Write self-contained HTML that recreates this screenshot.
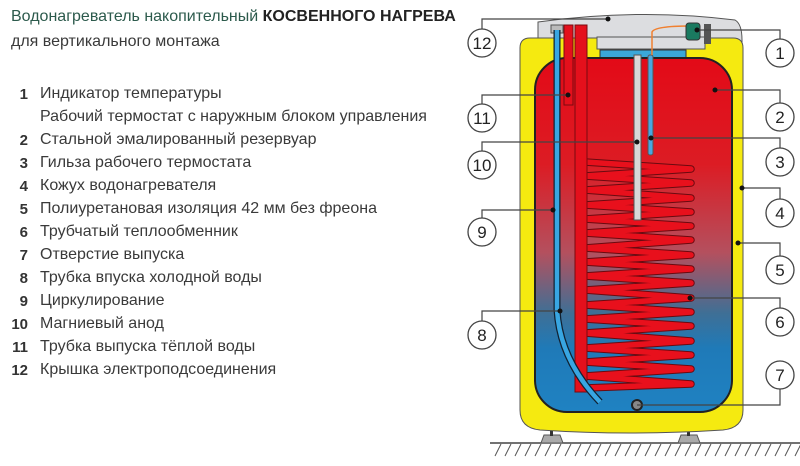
<!DOCTYPE html>
<html><head><meta charset="utf-8"><style>
body{margin:0;background:#fff;width:800px;height:466px;overflow:hidden;position:relative;font-family:"Liberation Sans",sans-serif;}
.t{position:absolute;font-size:16px;color:#3a3a3a;white-space:nowrap;}
.n{position:absolute;font-size:15px;font-weight:bold;color:#333;width:28px;text-align:right;}
</style></head><body>
<div class="t" style="left:11px;top:8px;color:#2c5a4c">Водонагреватель накопительный <b style="color:#222">КОСВЕННОГО НАГРЕВА</b></div>
<div class="t" style="left:11px;top:33px">для вертикального монтажа</div>
<div class="n" style="left:0;top:86px">1</div><div class="t" style="left:40px;top:85px">Индикатор температуры</div>
<div class="t" style="left:40px;top:108px">Рабочий термостат с наружным блоком управления</div>
<div class="n" style="left:0;top:132px">2</div><div class="t" style="left:40px;top:131px">Стальной эмалированный резервуар</div>
<div class="n" style="left:0;top:155px">3</div><div class="t" style="left:40px;top:154px">Гильза рабочего термостата</div>
<div class="n" style="left:0;top:178px">4</div><div class="t" style="left:40px;top:177px">Кожух водонагревателя</div>
<div class="n" style="left:0;top:201px">5</div><div class="t" style="left:40px;top:200px">Полиуретановая изоляция 42 мм без фреона</div>
<div class="n" style="left:0;top:224px">6</div><div class="t" style="left:40px;top:223px">Трубчатый теплообменник</div>
<div class="n" style="left:0;top:247px">7</div><div class="t" style="left:40px;top:246px">Отверстие выпуска</div>
<div class="n" style="left:0;top:270px">8</div><div class="t" style="left:40px;top:269px">Трубка впуска холодной воды</div>
<div class="n" style="left:0;top:293px">9</div><div class="t" style="left:40px;top:292px">Циркулирование</div>
<div class="n" style="left:0;top:316px">10</div><div class="t" style="left:40px;top:315px">Магниевый анод</div>
<div class="n" style="left:0;top:339px">11</div><div class="t" style="left:40px;top:338px">Трубка выпуска тёплой воды</div>
<div class="n" style="left:0;top:362px">12</div><div class="t" style="left:40px;top:361px">Крышка электроподсоединения</div>

<svg width="800" height="466" style="position:absolute;left:0;top:0">
<defs>
<linearGradient id="g" x1="0" y1="0" x2="0" y2="1">
<stop offset="0" stop-color="#e30a17"/><stop offset="0.3" stop-color="#dc1c24"/>
<stop offset="0.55" stop-color="#b4505e"/><stop offset="0.72" stop-color="#3f6f95"/>
<stop offset="0.82" stop-color="#1f7ab8"/><stop offset="1" stop-color="#1f82c2"/>
</linearGradient>
</defs>
<line x1="490" y1="443" x2="800" y2="443" stroke="#444" stroke-width="1.5"/>
<g stroke="#555" stroke-width="1">
<path d="M495 456l6-12M505 456l6-12M515 456l6-12M525 456l6-12M535 456l6-12M545 456l6-12M555 456l6-12M565 456l6-12M575 456l6-12M585 456l6-12M595 456l6-12M605 456l6-12M615 456l6-12M625 456l6-12M635 456l6-12M645 456l6-12M655 456l6-12M665 456l6-12M675 456l6-12M685 456l6-12M695 456l6-12M705 456l6-12M715 456l6-12M725 456l6-12M735 456l6-12M745 456l6-12M755 456l6-12M765 456l6-12M775 456l6-12M785 456l6-12M795 456l6-12"/>
</g>
<path d="M541 443l3-8h16l3 8z" fill="#aaa" stroke="#555"/><rect x="550" y="427" width="3" height="9" fill="#333"/>
<path d="M678 443l3-8h16l3 8z" fill="#aaa" stroke="#555"/><rect x="687" y="427" width="3" height="9" fill="#333"/>
<path d="M538 40V22Q640 8 735 20Q742 24 742 40V45H538z" fill="#dcdde0" stroke="#555" stroke-width="1"/>
<path d="M520 48Q520 38 530 38H600V48H705V38H733Q743 38 743 48V410Q743 428 723 430Q630 436 540 430Q520 428 520 410z" fill="#f5ea10" stroke="#555" stroke-width="1"/>
<rect x="597" y="37" width="108" height="12" fill="#dcdde0" stroke="#555"/>
<rect x="600" y="50" width="86" height="8" fill="#3aa7d8" stroke="#333"/>
<rect x="535" y="58" width="197" height="354" rx="32" fill="url(#g)" stroke="#222" stroke-width="2"/>
<g fill="none" stroke-linecap="round" stroke-linejoin="round">
<polyline points="585,162 691,169 585,176 691,183 585,190 691,198 585,205 691,212 585,219 691,226 585,233 691,240 585,248 691,255 585,262 691,269 585,276 691,283 585,290 691,298 585,305 691,312 585,319 691,326 585,333 691,341 585,348 691,355 585,362 691,369 585,376 691,384 585,388" stroke="#6a0a10" stroke-width="7.5"/>
<polyline points="585,162 691,169 585,176 691,183 585,190 691,198 585,205 691,212 585,219 691,226 585,233 691,240 585,248 691,255 585,262 691,269 585,276 691,283 585,290 691,298 585,305 691,312 585,319 691,326 585,333 691,341 585,348 691,355 585,362 691,369 585,376 691,384 585,388" stroke="#e8101c" stroke-width="5.5"/>
</g>
<rect x="634" y="55" width="7" height="165" fill="#d8d8d8" stroke="#555"/>
<rect x="648" y="55" width="5" height="100" rx="2" fill="#4aa6e0" stroke="#555"/>
<path d="M652 55V32Q655 26 690 26" fill="none" stroke="#f08030" stroke-width="1.5"/>
<rect x="686" y="23" width="14" height="17" rx="3" fill="#1a7a60" stroke="#333"/>
<rect x="704" y="24" width="7" height="20" fill="#555"/>
<path d="M575 25H587V392L575 392z" fill="#e4101c" stroke="#7a0a10"/>
<rect x="564" y="25" width="9" height="80" fill="#e4101c" stroke="#7a0a10"/>
<rect x="551" y="25" width="12" height="8" fill="#bbb" stroke="#555"/>
<path d="M557 30V310Q560 360 600 402" fill="none" stroke="#123" stroke-width="7"/>
<path d="M557 30V310Q560 360 600 402" fill="none" stroke="#38a6e2" stroke-width="4.5"/>
<circle cx="637" cy="405" r="5" fill="#888" stroke="#222" stroke-width="2"/>
<g fill="none" stroke="#444" stroke-width="1.2">
<path d="M780 39V30H697"/><path d="M780 103V90H715"/><path d="M780 148V138H651"/>
<path d="M780 199V188H742"/><path d="M780 256V243H738"/><path d="M780 308V298H690"/>
<path d="M780 389V405H637"/>
<path d="M482 29V19H608"/><path d="M482 104V95H568"/><path d="M482 151V142H637"/>
<path d="M482 218V210H553"/><path d="M482 321V311H560"/>
</g>
<g fill="#111"><circle cx="608" cy="19" r="2.5"/><circle cx="697" cy="30" r="2.5"/><circle cx="715" cy="90" r="2.5"/><circle cx="651" cy="138" r="2.5"/><circle cx="742" cy="188" r="2.5"/><circle cx="738" cy="243" r="2.5"/><circle cx="690" cy="298" r="2.5"/><circle cx="568" cy="95" r="2.5"/><circle cx="637" cy="142" r="2.5"/><circle cx="553" cy="210" r="2.5"/><circle cx="560" cy="311" r="2.5"/></g>
<g fill="#fff" stroke="#444" stroke-width="1.3">
<circle cx="780" cy="53" r="14"/><circle cx="780" cy="117" r="14"/><circle cx="780" cy="162" r="14"/><circle cx="780" cy="213" r="14"/><circle cx="780" cy="270" r="14"/><circle cx="780" cy="322" r="14"/><circle cx="780" cy="375" r="14"/>
<circle cx="482" cy="43" r="14"/><circle cx="482" cy="118" r="14"/><circle cx="482" cy="165" r="14"/><circle cx="482" cy="232" r="14"/><circle cx="482" cy="335" r="14"/>
</g>
<g font-family="Liberation Sans" font-size="17" fill="#222" text-anchor="middle">
<text x="780" y="59">1</text><text x="780" y="123">2</text><text x="780" y="168">3</text><text x="780" y="219">4</text><text x="780" y="276">5</text><text x="780" y="328">6</text><text x="780" y="381">7</text>
<text x="482" y="49">12</text><text x="482" y="124">11</text><text x="482" y="171">10</text><text x="482" y="238">9</text><text x="482" y="341">8</text>
</g>
</svg>
</body></html>
